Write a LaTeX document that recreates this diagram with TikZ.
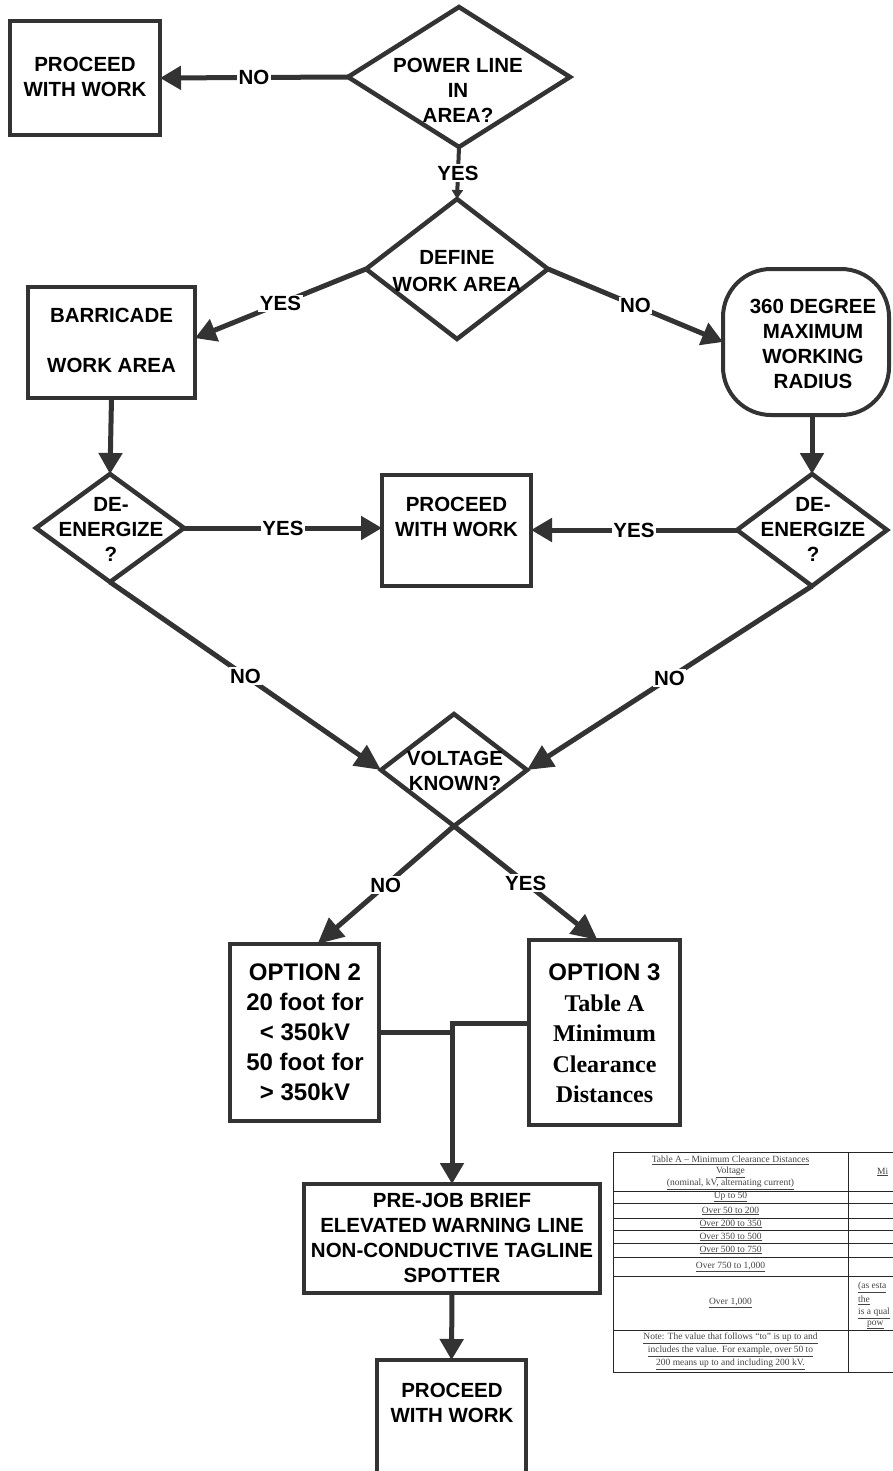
\documentclass[tikz,border=0pt]{standalone}
\usepackage{fontspec}
\setmainfont{Liberation Sans}
\newfontfamily\serifb{Liberation Serif}
\usetikzlibrary{arrows.meta,shapes.geometric,calc}
\definecolor{ln}{HTML}{333333}
\definecolor{tbl}{HTML}{444444}
\begin{document}
\begin{tikzpicture}[x=1pt,y=-1pt,
  box/.style={draw=ln,line width=4pt,rectangle,inner sep=0pt,outer sep=0pt},
  dia/.style={draw=ln,line width=4.5pt,diamond,inner sep=0pt,outer sep=0pt},
  txt/.style={font=\fontsize{20.5pt}{25pt}\selectfont\bfseries,align=center,inner sep=0pt,text=black},
  big/.style={font=\fontsize{24pt}{30.5pt}\selectfont\bfseries,align=center,inner sep=0pt,text=black},
  conn/.style={draw=ln,line width=5pt},
  arr/.style={conn,-{Triangle[length=21pt,width=23pt]}},
  lab/.style={fill=white,font=\fontsize{20.5pt}{25pt}\selectfont\bfseries,inner sep=1.5pt,text=black},
  tt/.style={font=\fontsize{9.5pt}{12pt}\selectfont\serifb,text=tbl,inner sep=0pt}]
\useasboundingbox (0,0) rectangle (893,1471);

% ---------- nodes ----------
\node[box,minimum width=150pt,minimum height=114pt] (b1) at (85,78) {};
\node[txt] (b1t) at (85,77) {PROCEED\\WITH WORK};

\node[dia,minimum width=222pt,minimum height=140pt] (d1) at (459,77) {};
\node[txt] (d1t) at (458,90) {POWER LINE\\IN\\AREA?};

\node[dia,minimum width=182pt,minimum height=140pt] (d2) at (457,269) {};
\node[txt,font=\fontsize{20.5pt}{27pt}\selectfont\bfseries] (d2t) at (457,271.5) {DEFINE\\WORK AREA};

\node[box,minimum width=167pt,minimum height=111pt] (barr) at (111.5,342.5) {};
\node[txt] (barrt) at (111.5,340) {BARRICADE\\\mbox{}\\WORK AREA};

\node[box,rounded corners=48pt,minimum width=166pt,minimum height=146pt] (rb) at (806,342) {};
\node[txt] (rbt) at (813,343.5) {360 DEGREE\\MAXIMUM\\WORKING\\RADIUS};

\node[dia,minimum width=148pt,minimum height=108pt] (d3) at (110,528) {};
\node[txt] (d3t) at (111,529) {DE-\\ENERGIZE\\?};

\node[dia,minimum width=150pt,minimum height=112pt] (d4) at (812,530) {};
\node[txt] (d4t) at (813,529) {DE-\\ENERGIZE\\?};

\node[box,minimum width=149pt,minimum height=111pt] (c) at (456.5,530.5) {};
\node[txt] (ct) at (456.5,517) {PROCEED\\WITH WORK};

\node[dia,minimum width=146pt,minimum height=112pt] (d5) at (454,770) {};
\node[txt] (d5t) at (455,770.5) {VOLTAGE\\KNOWN?};

\node[box,minimum width=149pt,minimum height=177pt] (o2) at (304.5,1032.5) {};
\node[big,font=\fontsize{24pt}{30pt}\selectfont\bfseries] (o2t) at (305,1032) {OPTION 2\\20 foot for\\< 350kV\\50 foot for\\> 350kV};

\node[box,minimum width=151pt,minimum height=185pt] (o3) at (604.5,1032.5) {};
\node[big] (o3t) at (604.5,1033.5) {OPTION 3\\{\serifb Table A}\\{\serifb Minimum}\\{\serifb Clearance}\\{\serifb Distances}};

\node[box,minimum width=296pt,minimum height=109pt] (pre) at (452,1238.5) {};
\node[txt] (pret) at (452,1237.5) {PRE-JOB BRIEF\\ELEVATED WARNING LINE\\NON-CONDUCTIVE TAGLINE\\SPOTTER};

\node[box,minimum width=149pt,minimum height=120pt] (fin) at (451.5,1420) {};
\node[txt] (fint) at (452,1402.5) {PROCEED\\WITH WORK};

% ---------- connectors ----------
\draw[arr] (d1.west) -- node[lab] (l1) {NO} (b1.east);
\draw[conn,line width=4pt,-{Triangle[length=9pt,width=11pt]}] (d1.south) -- node[lab] (l2) {YES} (d2.north);
\draw[arr] (d2.west) -- node[lab] (l3) {YES} (barr.3);
\draw[arr] (d2.east) -- node[lab] (l4) {NO} (rb.west);
\draw[arr] (barr.south) -- (d3.north);
\draw[arr] (d4.north |- rb.south) -- (d4.north);
\draw[arr] (d3.east) -- node[lab] (l5) {YES} (d3.east -| c.west);
\draw[arr] (d4.west) -- node[lab] (l6) {YES} (d4.west -| c.east);
\draw[arr,-{Triangle[length=26pt,width=24pt]}] (d3.south) -- node[lab] (l7) {NO} (d5.west);
\draw[arr,-{Triangle[length=26pt,width=24pt]}] (d4.south) -- node[lab] (l8) {NO} (d5.east);
\draw[arr,-{Triangle[length=26pt,width=24pt]}] (d5.south) -- node[lab] (l9) {NO} ([xshift=13pt]o2.north);
\draw[arr,-{Triangle[length=26pt,width=24pt]}] (d5.south) -- node[lab] (l10) {YES} ([xshift=-7pt]o3.north);
\draw[conn] (o2.east) -- (o2.east -| pre.north);
\draw[arr] ([yshift=9.5pt]o3.west) -- ([yshift=9.5pt]o3.west -| pre.north) -- (pre.north);
\draw[arr] (pre.south) -- (fin.north);

% ---------- Table A (cut at the right edge, as in the reference) ----------
\begin{scope}
\clip (600,1140) rectangle (893,1400);
\draw[line width=1pt,draw=black!85] (613,1152) rectangle (960,1372);
\draw[line width=1pt,draw=black!85] (848,1152) -- (848,1372);
\foreach \yy in {1191,1203,1218,1230,1243,1257,1276,1330}
  \draw[line width=1pt,draw=black!85] (613,\yy) -- (960,\yy);
\end{scope}
\node[tt] (ta0) at (730.5,1160) {\underline{Table A – Minimum Clearance Distances}};
\node[tt] (ta1) at (730.5,1172) {\underline{Voltage}};
\node[tt] (ta2) at (730.5,1184) {\underline{(nominal, kV, alternating current)}};
\node[tt] (ta3) at (730.5,1197) {\underline{Up to 50}};
\node[tt] (ta4) at (730.5,1211) {\underline{Over 50 to 200}};
\node[tt] (ta5) at (730.5,1224) {\underline{Over 200 to 350}};
\node[tt] (ta6) at (730.5,1237) {\underline{Over 350 to 500}};
\node[tt] (ta7) at (730.5,1250) {\underline{Over 500 to 750}};
\node[tt] (ta8) at (730.5,1267) {\underline{Over 750 to 1,000}};
\node[tt] (ta9) at (730.5,1303) {\underline{Over 1,000}};
\node[tt] (tn1) at (730.5,1338) {\underline{Note: The value that follows “to” is up to and}};
\node[tt] (tn2) at (730.5,1351) {\underline{includes the value. For example, over 50 to}};
\node[tt] (tn3) at (730.5,1364) {\underline{200 means up to and including 200 kV.}};
\node[tt,anchor=west] (tb0) at (877,1172) {\underline{Mi}};
\node[tt,anchor=west] (tb1) at (858,1287) {\underline{(as esta}};
\node[tt,anchor=west] (tb2) at (858,1300) {\underline{the}};
\node[tt,anchor=west] (tb3) at (858,1313) {\underline{is a qual}};
\node[tt,anchor=west] (tb4) at (867,1325) {\underline{pow}};
\end{tikzpicture}
\end{document}
